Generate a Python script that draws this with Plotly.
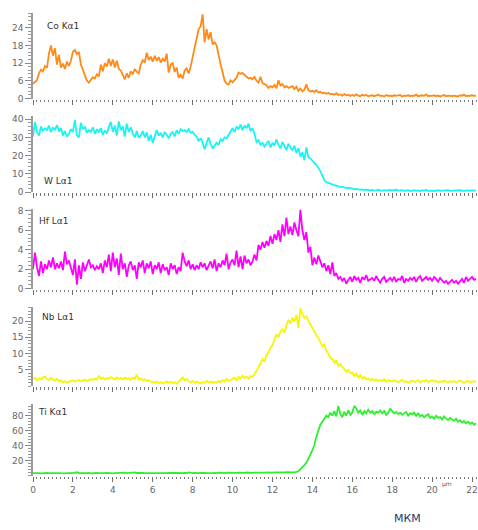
import plotly.graph_objects as go

# sampling positions along the line scan (µm), 0.1 µm step
x_um = [round(i * 0.1, 1) for i in range(223)]

co_ka1 = [
    5.0, 5.6, 6.2, 8.5, 9.8, 9.2, 11.0, 10.4, 15.2, 18.0,
    14.5, 17.0, 11.5, 14.8, 10.5, 11.8, 10.0, 12.5, 11.0, 12.8,
    15.8, 16.4, 15.0, 15.8, 11.5, 9.8, 8.0, 6.0, 5.4, 6.5,
    7.2, 6.8, 8.2, 7.5, 11.5, 9.2, 12.0, 10.8, 13.5, 11.0,
    13.2, 10.5, 12.8, 10.0, 9.5, 8.0, 6.5, 8.5, 7.0, 9.2,
    8.2, 10.0, 9.0, 8.5, 11.5, 13.0, 12.2, 15.5, 13.0, 14.2,
    12.5, 14.5, 12.8, 14.0, 12.2, 13.5, 12.5, 15.2, 8.8, 11.5,
    12.0, 9.0, 10.5, 7.0, 8.0, 6.8, 9.5, 10.2, 8.5, 10.8,
    14.0, 16.8, 21.0, 23.5, 24.5, 28.5, 19.0, 23.5, 20.0, 22.5,
    18.3, 19.0, 18.0, 14.0, 11.5, 9.0, 6.0, 5.0, 4.8, 6.2,
    5.5, 6.3, 7.0, 8.8, 8.4, 8.6, 8.0, 7.2, 6.8, 7.0,
    6.5, 7.3, 6.0, 5.4, 7.4, 5.2, 4.8, 4.5, 3.6, 4.2,
    3.8, 4.6, 3.5, 6.2, 4.4, 4.9, 3.8, 4.2, 3.6, 4.0,
    4.2, 3.2, 4.0, 2.6, 3.4, 2.4, 3.0, 4.8, 2.8, 2.4,
    2.6, 2.2, 2.8, 2.0, 2.3, 1.8, 2.0, 1.6, 1.9, 1.5,
    1.6, 1.3, 1.8, 1.2, 1.4, 1.0, 1.5, 1.1, 1.3, 0.9,
    1.2, 0.9, 1.4, 1.0, 0.8, 1.3, 1.0, 1.2, 0.8, 1.0,
    1.1, 0.8, 1.0, 1.3, 0.9, 1.0, 0.7, 1.2, 0.9, 1.0,
    0.8, 1.1, 0.9, 1.0, 1.2, 0.7, 1.0, 0.9, 1.1, 0.8,
    1.0, 0.9, 1.3, 0.8, 1.0, 1.1, 0.9, 1.4, 0.8, 1.0,
    0.9, 1.1, 0.8, 1.0, 0.7, 0.9, 1.2, 0.8, 1.0, 0.9,
    0.8, 1.0, 0.9, 0.7, 1.1, 0.9, 1.3, 0.8, 1.0, 0.9,
    1.1, 0.9, 1.0,
]

w_la1 = [
    30.5, 38.5, 33.0, 31.0, 36.0, 33.5, 35.0, 34.0, 36.5, 33.0,
    35.5, 34.0, 36.8, 33.2, 35.0, 31.0, 33.5, 30.5, 32.0, 34.5,
    33.0, 39.5, 31.0, 30.0, 38.0, 34.5, 36.0, 32.5, 34.0, 33.0,
    35.5, 32.0, 34.5, 33.0, 35.0, 31.5, 33.8, 32.2, 35.5, 38.5,
    33.0, 36.5, 31.0, 38.8, 34.0, 36.0, 30.5, 37.5, 33.0, 35.5,
    32.0, 30.0, 33.5, 29.8, 31.0, 33.5, 30.0, 32.8, 28.0, 31.5,
    27.0, 30.5, 34.0, 31.0, 32.5, 30.0, 33.0, 31.5, 29.5, 32.0,
    33.0, 30.5, 34.0, 32.0, 34.5, 33.5, 34.0, 33.0, 34.5, 32.5,
    33.0, 31.5, 30.5, 28.0, 29.5, 27.0, 23.5, 27.0, 30.0, 26.5,
    24.0, 25.5, 27.0, 26.0, 29.0, 28.0, 30.0, 29.5, 31.5, 33.5,
    35.0, 33.0, 36.0, 34.5, 37.0, 34.0, 36.5, 35.0, 37.5, 33.5,
    35.0, 32.0, 27.5, 28.5, 26.0, 27.0, 25.0, 26.5, 28.0, 24.5,
    27.0, 25.5, 29.0, 26.0, 24.0, 27.5, 25.0, 23.0, 26.5, 24.5,
    22.8, 25.5, 21.5, 24.0, 19.5, 22.0, 17.5, 24.5, 19.0, 18.5,
    17.0, 16.0, 15.0, 13.5, 11.5, 9.0, 6.5, 5.5, 5.0, 4.5,
    4.2, 3.8, 3.5, 3.2, 2.8, 3.0, 2.5, 2.2, 2.4, 2.0,
    1.9, 1.6, 1.8, 1.4, 1.2, 1.5, 1.0, 1.3, 1.1, 0.9,
    1.2, 0.8, 1.0, 1.3, 0.9, 0.7, 1.1, 0.8, 1.0, 0.9,
    0.7, 1.0, 1.4, 0.8, 0.9, 1.1, 0.7, 0.8, 1.0, 0.6,
    0.8, 1.1, 0.7, 0.9, 0.6, 1.0, 0.8, 1.2, 0.7, 0.9,
    0.8, 0.6, 0.9, 1.0, 0.7, 0.8, 0.6, 0.9, 1.1, 0.7,
    0.8, 0.6, 0.9, 0.7, 1.0, 0.8, 0.6, 0.9, 0.7, 0.8,
    0.9, 0.7, 0.8,
]

hf_la1 = [
    2.0, 3.7, 2.2, 1.3, 2.8, 1.6, 2.5, 2.0, 2.9, 2.2,
    3.2, 2.0, 2.6, 2.1, 2.8, 1.9, 3.8, 2.5, 2.9, 2.2,
    1.4, 3.0, 0.4, 2.4, 1.0, 2.7, 1.8, 2.4, 3.0, 2.2,
    2.4, 1.9, 2.3, 2.0, 2.6, 1.6, 2.9, 2.2, 3.5, 1.8,
    3.7, 2.2, 3.1, 1.4, 3.6, 2.0, 2.6, 1.2, 2.4, 2.8,
    1.9, 2.4, 1.0, 2.7, 2.2, 2.9, 1.6, 2.6, 2.1, 2.8,
    1.5, 2.4, 2.0, 2.7, 1.6, 2.5, 1.9, 2.2, 1.4, 2.6,
    2.0, 2.4, 1.5, 2.2, 1.8, 3.7, 2.8, 2.3, 2.9, 2.0,
    2.5, 1.9, 2.4, 2.0, 2.7, 2.2, 2.6, 1.9, 2.3, 2.8,
    2.1, 3.0, 1.8, 2.6, 2.2, 2.9, 2.4, 3.6, 2.0, 2.7,
    3.0, 2.4, 3.9, 2.2, 3.3, 2.0, 3.4, 2.6, 3.0, 2.4,
    2.8, 3.5, 2.9, 4.5, 4.0, 4.8, 4.2, 4.9, 4.4, 5.4,
    4.6, 5.6, 5.0, 6.0, 4.8, 6.6, 5.4, 7.3, 5.6, 6.4,
    5.5, 6.8, 6.0, 5.4, 8.1, 6.0, 5.0, 5.8, 3.7, 4.3,
    2.4, 3.2, 2.5, 3.4, 2.8, 2.2, 2.6, 1.8, 2.4, 1.5,
    2.7, 1.3, 1.6, 1.0, 1.2, 0.8, 1.1, 0.5, 0.9, 1.2,
    0.7, 1.3, 0.9, 1.1, 0.6, 1.2, 0.9, 1.4, 0.8, 1.0,
    1.1, 0.8, 1.3, 0.9, 0.6, 1.0, 1.2, 0.7, 0.9, 1.1,
    0.8, 1.2, 0.7, 1.0, 0.9, 1.3, 0.6, 1.0, 0.8, 1.1,
    0.9, 1.2, 0.7, 1.1, 1.3, 0.8, 1.0, 1.2, 0.9, 1.1,
    0.8, 1.2, 1.0, 0.7, 1.1, 0.9, 0.6, 0.8, 0.5, 0.7,
    0.9, 0.6, 0.8, 0.5, 0.7, 1.0, 0.6, 1.2, 0.8, 1.0,
    1.2, 0.9, 1.0,
]

nb_la1 = [
    2.2, 2.6, 1.8, 2.4, 2.0, 2.7, 2.9, 2.2, 1.9, 2.5,
    2.0, 1.6, 2.3, 1.4, 1.8, 1.2, 1.5, 1.0, 1.3, 1.5,
    1.8, 1.4, 1.6, 1.9, 1.5, 1.7, 2.0, 1.6, 1.8, 2.1,
    1.9, 2.3, 2.0, 3.2, 2.2, 2.6, 2.1, 2.5, 2.3, 2.8,
    2.4, 2.1, 2.7, 2.3, 2.5, 2.0, 2.6, 2.2, 2.4, 2.0,
    2.6, 2.2, 3.5, 2.0, 2.4, 1.8, 2.1, 1.6, 1.9, 1.4,
    1.2, 1.0, 1.4, 0.9, 1.2, 0.8, 1.1, 1.5, 1.0, 1.3,
    0.9, 1.2, 0.7, 1.4, 2.0, 2.7, 1.8, 2.2, 1.5, 1.2,
    1.6, 1.0, 1.4, 1.1, 0.8, 1.2, 1.0, 1.6, 1.1, 1.4,
    1.0, 1.3, 1.1, 1.6, 1.2, 1.8, 1.4, 2.2, 1.6, 1.9,
    2.2, 2.6, 1.9, 2.8, 2.4, 3.2, 2.5, 2.9, 2.3, 3.1,
    2.8, 3.6, 4.7, 5.8, 7.0, 8.3, 7.5, 9.6, 10.4, 11.8,
    12.6, 14.2, 15.9, 15.0, 16.8, 17.4, 16.5, 18.8, 20.4, 19.2,
    21.0, 19.8, 21.9, 17.9, 23.9, 22.2, 21.0, 21.4, 20.0, 18.8,
    17.9, 16.5, 15.6, 14.8, 13.5, 12.2, 12.8, 10.8, 10.0, 8.6,
    8.3, 7.2, 8.0, 6.2, 6.8, 5.8, 5.2, 4.4, 5.0, 4.0,
    4.2, 3.2, 3.8, 2.7, 3.4, 2.4, 2.8, 2.1, 2.4, 1.8,
    2.2, 1.7, 2.0, 1.5, 1.9, 1.6, 2.1, 1.4, 1.8, 1.6,
    1.4, 1.8, 1.5, 1.2, 1.6, 1.9, 1.3, 1.5, 1.1, 1.4,
    1.7, 1.3, 1.5, 1.8, 1.2, 1.6, 1.4, 1.9, 1.3, 1.5,
    1.8, 1.4, 1.6, 1.2, 1.5, 1.3, 1.7, 1.4, 1.1, 1.5,
    1.3, 1.6, 1.2, 1.5, 1.8, 1.3, 1.0, 1.4, 1.6, 1.2,
    1.5, 1.3, 1.6,
]

ti_ka1 = [
    3.5, 3.8, 3.4, 3.6, 3.3, 3.7, 3.5, 3.9, 3.4, 3.6,
    3.3, 3.7, 3.2, 3.6, 3.4, 3.8, 3.3, 3.5, 3.1, 3.6,
    3.4, 3.9, 4.6, 3.5, 3.8, 3.2, 3.6, 3.4, 3.9, 3.3,
    3.6, 3.2, 3.7, 3.4, 3.8, 3.3, 3.6, 3.9, 3.4, 3.7,
    3.3, 3.6, 3.8, 3.4, 3.9, 3.5, 4.2, 3.6, 3.8, 4.4,
    4.0, 4.6, 3.7, 3.9, 3.5, 3.8, 3.4, 3.7, 3.3, 3.6,
    3.5, 3.2, 3.7, 3.4, 3.6, 3.3, 3.8, 3.5, 3.9, 3.6,
    4.1, 3.7, 3.9, 3.5, 3.8, 3.4, 3.7, 3.5, 4.4, 3.6,
    3.4, 3.8, 3.3, 3.6, 3.9, 3.4, 3.7, 3.5, 3.8, 4.3,
    3.6, 3.9, 3.5, 4.2, 3.7, 3.9, 3.6, 4.0, 3.8, 4.1,
    3.7, 4.0, 3.8, 4.2, 3.9, 4.1, 3.8, 4.3, 4.0, 4.2,
    3.9, 4.3, 4.1, 4.4, 4.0, 4.3, 4.1, 4.5, 4.2, 4.4,
    4.1, 4.5, 4.3, 4.6, 4.2, 4.5, 4.4, 4.7, 4.5, 4.6,
    4.2, 4.6, 5.0, 6.0, 8.7, 11.0, 14.0, 17.5, 22.0, 28.0,
    34.0, 41.0, 52.0, 60.0, 68.0, 72.0, 76.0, 80.0, 78.0, 84.0,
    80.0, 86.0, 79.0, 93.0, 82.0, 78.0, 85.0, 80.0, 87.0, 81.0,
    84.0, 93.0, 90.0, 84.0, 87.0, 81.0, 86.0, 83.0, 88.0, 84.0,
    86.0, 82.0, 85.0, 84.0, 87.0, 83.0, 86.0, 81.0, 84.0, 89.0,
    86.0, 83.0, 85.0, 82.0, 84.0, 81.0, 83.0, 85.0, 80.0, 83.0,
    82.0, 84.0, 80.0, 83.0, 79.0, 81.0, 78.0, 80.0, 82.0, 77.0,
    79.0, 76.0, 80.0, 77.0, 78.0, 75.0, 79.0, 76.0, 74.0, 77.0,
    75.0, 73.0, 76.0, 72.0, 74.0, 71.0, 73.0, 70.0, 72.0, 69.0,
    71.0, 68.0, 70.0,
]

series_names = ["Co Kα1", "W Lα1", "Hf Lα1", "Nb Lα1", "Ti Kα1"]
series_values = [co_ka1, w_la1, hf_la1, nb_la1, ti_ka1]
series_colors = ["#FF8A14", "#18F4F4", "#FF00FF", "#F6F600", "#2CF02C"]
y_tickvals = [[0, 6, 12, 18, 24], [0, 10, 20, 30, 40], [0, 2, 4, 6, 8],
              [5, 10, 15, 20], [20, 40, 60, 80]]
y_ranges = [[0, 29], [0, 41.6], [0, 8.2], [0, 24.2], [0, 95.7]]
y_minor = [1.2, 2, 0.4, 1, 4]
x_tickvals = [0, 2, 4, 6, 8, 10, 12, 14, 16, 18, 20, 22]

W, H = 478, 530
L = 33
# panel pixel extents (top, bottom)
panels_px = [(10, 97), (115, 192), (209, 290), (309, 389), (407, 480)]
label_pos = [(45, 23), (42, 181), (37, 221), (40, 319), (36, 415)]

def py(p):
    return 1 - p / H

def px(p):
    return (p - L) / (W - L)

fig = go.Figure()
layout = dict(
    width=W, height=H,
    margin=dict(l=L, r=0, t=0, b=0),
    paper_bgcolor="white", plot_bgcolor="white",
    showlegend=False,
    font=dict(family="DejaVu Sans", size=9, color="#666666"),
)
annotations = []
for i in range(5):
    xa = "x" if i == 0 else f"x{i+1}"
    ya = "y" if i == 0 else f"y{i+1}"
    fig.add_trace(go.Scatter(
        x=x_um, y=series_values[i], mode="lines",
        line=dict(color=series_colors[i], width=1.8),
        xaxis=xa, yaxis=ya, hoverinfo="skip", cliponaxis=False,
    ))
    top, bot = panels_px[i]
    xkey = "xaxis" if i == 0 else f"xaxis{i+1}"
    ykey = "yaxis" if i == 0 else f"yaxis{i+1}"
    layout[xkey] = dict(
        domain=[0, 1], range=[0, 22.25], anchor=ya,
        showgrid=False, zeroline=False, showline=False,
        ticks="outside", ticklen=5, tickwidth=1.2, tickcolor="#6f6f6f",
        tickvals=x_tickvals, showticklabels=(i == 4),
        ticklabeloverflow="allow",
        tickfont=dict(size=9, color="#666666", family="DejaVu Sans"),
        minor=dict(dtick=0.2, tick0=0, ticks="outside", ticklen=2.5,
                   tickwidth=1, tickcolor="#7a7a7a"),
    )
    layout[ykey] = dict(
        domain=[py(bot), py(top)], range=y_ranges[i], anchor=xa,
        showgrid=False, zeroline=False,
        showline=True, linecolor="#9a9a9a", linewidth=1.5,
        ticks="outside", ticklen=6, tickwidth=1, tickcolor="#8a8a8a",
        tickvals=y_tickvals[i],
        tickfont=dict(size=9, color="#666666", family="DejaVu Sans"),
        minor=dict(dtick=y_minor[i], tick0=0, ticks="outside", ticklen=3,
                   tickwidth=1, tickcolor="#9a9a9a"),
    )
    lx, ly = label_pos[i]
    annotations.append(dict(
        text=series_names[i], x=px(lx), y=py(ly), xref="paper", yref="paper",
        xanchor="left", yanchor="middle", showarrow=False,
        font=dict(size=9, color="#333333", family="DejaVu Sans"),
    ))

annotations.append(dict(text="μm", x=px(448), y=py(488), xref="paper", yref="paper",
                        xanchor="center", yanchor="middle", showarrow=False,
                        font=dict(size=6, color="#555555", family="DejaVu Sans")))
annotations.append(dict(text="МКМ", x=px(408), y=py(523), xref="paper", yref="paper",
                        xanchor="center", yanchor="middle", showarrow=False,
                        font=dict(size=11, color="#1F3A6E", family="DejaVu Sans")))
layout["annotations"] = annotations
fig.update_layout(**layout)
fig.write_html("out.html")
